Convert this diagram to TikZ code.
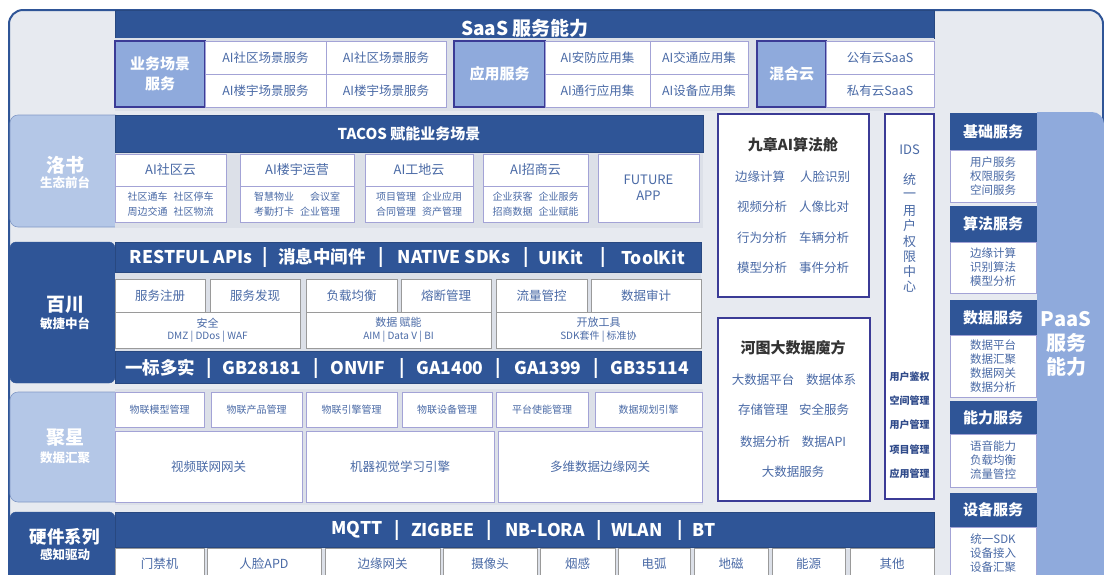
\documentclass[tikz,border=0pt]{standalone}
\usepackage{fontspec}
\setmainfont{Noto Sans CJK SC}
\definecolor{dkblue}{HTML}{2F5597}
\definecolor{lblue}{HTML}{B4C7E7}
\definecolor{mblue}{HTML}{8FAADC}
\definecolor{bg}{HTML}{E7EAF0}
\definecolor{strip}{HTML}{DCE0E8}
\definecolor{indigo}{HTML}{3B3B96}
\definecolor{cellline}{HTML}{A3A3D6}
\definecolor{txt}{HTML}{4A6AA6}
\definecolor{head}{HTML}{333333}
\definecolor{graycell}{HTML}{9A9A9A}
\definecolor{idstxt}{HTML}{2F4A8A}
\newcommand\bx[7]{\node[#6, minimum width={#4-#2}, minimum height={#5-#3}] (#1) at ({(#2+#4)/2},{(#3+#5)/2}) {#7};}
\newcommand\card[6]{%
  \bx{#1}{#2}{154}{#3}{222}{cell}{}
  \draw[cellline, line width=0.8pt] (#2,186) -- (#3,186);
  \node[f13, text=txt] (#1t) at ({(#2+#3)/2},170) {#4};
  \node[f10s, text=txt] (#1s) at ({(#2+#3)/2},204.5) {#5\\#6};
}
\tikzset{
 every node/.style={inner sep=0pt, outer sep=0pt, align=center},
 f10/.style={font=\fontsize{10}{12}\selectfont},
 f10s/.style={font=\fontsize{10}{15}\selectfont},
 f11/.style={font=\fontsize{11}{12.5}\selectfont},
 f115/.style={font=\fontsize{11.5}{14}\selectfont},
 f125/.style={font=\fontsize{12.5}{15}\selectfont},
 f13/.style={font=\fontsize{13}{16}\selectfont},
 b10/.style={font=\fontsize{10}{12}\selectfont\bfseries},
 b125/.style={font=\fontsize{12.5}{15}\selectfont\bfseries},
 b15/.style={font=\fontsize{15}{20}\selectfont\bfseries},
 b175/.style={font=\fontsize{17.5}{21}\selectfont\bfseries},
 b19/.style={font=\fontsize{19}{23}\selectfont\bfseries},
 b20/.style={font=\fontsize{20}{24}\selectfont\bfseries},
 cell/.style={draw=cellline, fill=white, line width=0.8pt, text=txt},
 gcell/.style={draw=graycell, fill=white, line width=0.8pt, text=txt},
 lab/.style={draw=indigo, fill=mblue, line width=1.2pt, text=white, b15},
 darkbar/.style={fill=dkblue, draw=dkblue!85!black, line width=0.6pt, text=white},
 darklab/.style={fill=dkblue, draw=dkblue, rounded corners=6pt},
 lightlab/.style={fill=lblue, draw=mblue!90!black, line width=0.6pt, rounded corners=8pt},
 bigbox/.style={draw=indigo, fill=white, line width=2.4pt},
 svh/.style={fill=dkblue, draw=dkblue, text=white, b15},
 svb/.style={cell, f115},
}
\begin{document}
\begin{tikzpicture}[x=1pt,y=-1pt]
\useasboundingbox (0,0) rectangle (1104,574);
\begin{scope}
\clip (0,0) rectangle (1104,574);
% outer frame
\draw[draw=dkblue, line width=2pt, fill=bg, rounded corners=14pt] (9,10) rectangle (1103,600);
% PaaS blue area
\fill[mblue] (1037,600) -- (1037,112) -- (1092,112) arc[start angle=-90, end angle=0, radius=12] -- (1104,600) -- cycle;

% ===== SaaS =====
\bx{saasbar}{115}{10}{934}{38}{darkbar}{}
\node[b19, text=white] (saast) at (525,28) {SaaS 服务能力};
\fill[strip] (115,38) rectangle (934,111);
\bx{g1l}{115}{41}{205}{107}{lab}{业务场景\\服务}
\bx{g1a}{205}{41}{326}{74}{cell,f125}{AI社区场景服务}
\bx{g1b}{326}{41}{446}{74}{cell,f125}{AI社区场景服务}
\bx{g1c}{205}{74}{326}{107}{cell,f125}{AI楼宇场景服务}
\bx{g1d}{326}{74}{446}{107}{cell,f125}{AI楼宇场景服务}
\bx{g2l}{454}{41}{545}{107}{lab}{应用服务}
\bx{g2a}{545}{41}{650}{74}{cell,f125}{AI安防应用集}
\bx{g2b}{650}{41}{748}{74}{cell,f125}{AI交通应用集}
\bx{g2c}{545}{74}{650}{107}{cell,f125}{AI通行应用集}
\bx{g2d}{650}{74}{748}{107}{cell,f125}{AI设备应用集}
\bx{g3l}{757}{41}{826}{107}{lab}{混合云}
\bx{g3a}{826}{41}{934}{74}{cell,f125}{公有云SaaS}
\bx{g3b}{826}{74}{934}{107}{cell,f125}{私有云SaaS}

% ===== 洛书 =====
\bx{luoshu}{10}{115}{123}{227}{lightlab}{}
\node[b19, text=white] (luoshu1) at (65,165) {洛书};
\node[b125, text=white] (luoshu2) at (65,183) {生态前台};
\fill[strip] (115,152) rectangle (703,228);
\bx{tacos}{115}{115}{703}{152}{darkbar,b15}{TACOS 赋能业务场景}
\card{c1}{115}{226}{AI社区云}{社区通车\hspace{6pt}社区停车}{周边交通\hspace{6pt}社区物流}
\card{c2}{240}{354}{AI楼宇运营}{智慧物业\hspace{16pt}会议室}{考勤打卡\hspace{6pt}企业管理}
\card{c3}{365}{473}{AI工地云}{项目管理\hspace{6pt}企业应用}{合同管理\hspace{6pt}资产管理}
\card{c4}{483}{588}{AI招商云}{企业获客\hspace{6pt}企业服务}{招商数据\hspace{6pt}企业赋能}
\bx{future}{598}{154}{699}{222}{cell,font=\fontsize{13}{16}\selectfont}{FUTURE\\APP}

% ===== 九章 =====
\bx{jiuzhang}{718}{114}{869}{297}{bigbox}{}
\node[b15, text=head] (jzt) at (793,145) {九章AI算法舱};
\node[f125, text=txt] (jz1) at (760,177) {边缘计算};
\node[f125, text=txt] (jz2) at (825,177) {人脸识别};
\node[f125, text=txt] (jz3) at (762,207) {视频分析};
\node[f125, text=txt] (jz4) at (824,207) {人像比对};
\node[f125, text=txt] (jz5) at (762,238) {行为分析};
\node[f125, text=txt] (jz6) at (824,238) {车辆分析};
\node[f125, text=txt] (jz7) at (762,268) {模型分析};
\node[f125, text=txt] (jz8) at (824,268) {事件分析};

% ===== 河图 =====
\bx{hetu}{718}{318}{870}{501}{bigbox}{}
\node[b15, text=head] (htt) at (793,348) {河图大数据魔方};
\node[f125, text=txt] (ht1) at (763,380) {大数据平台};
\node[f125, text=txt] (ht2) at (831,380) {数据体系};
\node[f125, text=txt] (ht3) at (763,410) {存储管理};
\node[f125, text=txt] (ht4) at (824,410) {安全服务};
\node[f125, text=txt] (ht5) at (765,442) {数据分析};
\node[f125, text=txt] (ht6) at (824,442) {数据API};
\node[f125, text=txt] (ht7) at (793,472) {大数据服务};

% ===== IDS =====
\bx{ids}{885}{114}{934}{499}{bigbox}{}
\node[f13, text=txt] (idst) at (909.5,150) {IDS};
\foreach \c [count=\i] in {统,一,用,户,权,限,中,心}
  \node[f13, text=txt] (idsc\i) at (909.5,{180+15.3*(\i-1)}) {\c};
\foreach \c/\y [count=\i] in {用户鉴权/377,空间管理/401,用户管理/425,项目管理/450,应用管理/474}
  \node[b10, text=idstxt] (idsb\i) at (909.5,\y) {\c};

% ===== PaaS services =====
\bx{jch}{950}{113}{1036}{150}{svh}{基础服务}
\bx{jcb}{950}{150}{1036}{202}{svb}{用户服务\\权限服务\\空间服务}
\bx{sfh}{950}{206}{1036}{242}{svh}{算法服务}
\bx{sfb}{950}{242}{1036}{293}{svb}{边缘计算\\识别算法\\模型分析}
\bx{sjh}{950}{300}{1036}{335}{svh}{数据服务}
\bx{sjb}{950}{335}{1036}{397}{svb}{数据平台\\数据汇聚\\数据网关\\数据分析}
\bx{nlh}{950}{401}{1036}{434}{svh}{能力服务}
\bx{nlb}{950}{434}{1036}{487}{svb}{语音能力\\负载均衡\\流量管控}
\bx{sbh}{950}{493}{1036}{527}{svh}{设备服务}
\bx{sbb}{950}{527}{1036}{580}{svb}{统一SDK\\设备接入\\设备汇聚}
\node[b20, text=white] (paas) at (1066,344) {PaaS\\服务\\能力};

% ===== 百川 =====
\bx{baichuan}{10}{242}{115}{383}{darklab}{}
\node[b19, text=white] (bc1) at (65,305) {百川};
\node[b125, text=white] (bc2) at (65,324) {敏捷中台};
\fill[strip] (115,272) rectangle (701,351);
\bx{restbar}{115}{242}{701}{272}{darkbar}{}
\foreach \t/\x [count=\i] in {RESTFUL APIs/191,|/265,消息中间件/322,|/381,NATIVE SDKs/454,|/526,UIKit/561,|/603,ToolKit/653}
  \node[b175, text=white] (rest\i) at (\x,257) {\t};
\bx{bca}{115}{279}{205}{312}{gcell,f125}{服务注册}
\bx{bcb}{210}{279}{300}{312}{gcell,f125}{服务发现}
\bx{bcc}{306}{279}{397}{312}{gcell,f125}{负载均衡}
\bx{bcd}{401}{279}{491}{312}{gcell,f125}{熔断管理}
\bx{bce}{496}{279}{587}{312}{gcell,f125}{流量管控}
\bx{bcf}{591}{279}{701}{312}{gcell,f125}{数据审计}
\bx{bcg}{115}{312}{300}{348}{gcell,f11}{安全\\{\fontsize{10}{12}\selectfont DMZ | DDos | WAF}}
\bx{bch}{306}{312}{491}{348}{gcell,f11}{数据 赋能\\{\fontsize{10}{12}\selectfont AIM | Data V | BI}}
\bx{bci}{496}{312}{701}{348}{gcell,f11}{开放工具\\{\fontsize{10}{12}\selectfont SDK套件 | 标准协}}
\bx{gbbar}{115}{351}{701}{383}{darkbar}{}
\foreach \t/\x [count=\i] in {一标多实/160,|/209,GB28181/262,|/316,ONVIF/358,|/402,GA1400/450,|/498,GA1399/548,|/596,GB35114/650}
  \node[b175, text=white] (gb\i) at (\x,368) {\t};

% ===== 聚星 =====
\bx{juxing}{10}{392}{123}{502}{lightlab}{}
\fill[strip] (115,389) rectangle (703,505);
\node[b19, text=white] (jx1) at (65,438) {聚星};
\node[b125, text=white] (jx2) at (65,458) {数据汇聚};
\bx{jxa}{115}{392}{204}{427}{cell,f10}{物联模型管理}
\bx{jxb}{211}{392}{302}{427}{cell,f10}{物联产品管理}
\bx{jxc}{306}{392}{397}{427}{cell,f10}{物联引擎管理}
\bx{jxd}{402}{392}{492}{427}{cell,f10}{物联设备管理}
\bx{jxe}{496}{392}{588}{427}{cell,f10}{平台使能管理}
\bx{jxf}{595}{392}{702}{427}{cell,f10}{数据规划引擎}
\bx{jxg}{115}{431}{302}{502}{cell,f125}{视频联网网关}
\bx{jxh}{306}{431}{494}{502}{cell,f125}{机器视觉学习引擎}
\bx{jxi}{498}{431}{702}{502}{cell,f125}{多维数据边缘网关}

% ===== 硬件 =====
\bx{hw}{10}{512}{115}{590}{darklab}{}
\node[b175, text=white] (hw1) at (65,537) {硬件系列};
\node[b125, text=white] (hw2) at (65,555) {感知驱动};
\fill[strip] (115,547) rectangle (934,590);
\bx{hwbar}{115}{512}{934}{547}{darkbar}{}
\foreach \t/\x [count=\i] in {MQTT/357,|/397,ZIGBEE/443,|/489,NB-LORA/545,|/599,WLAN/637,|/680,BT/704}
  \node[b175, text=white] (mq\i) at (\x,530) {\t};
\bx{hwa}{115}{548}{204}{580}{gcell,f125}{门禁机}
\bx{hwb}{207}{548}{321}{580}{gcell,f125}{人脸APD}
\bx{hwc}{325}{548}{440}{580}{gcell,f125}{边缘网关}
\bx{hwd}{443}{548}{537}{580}{gcell,f125}{摄像头}
\bx{hwe}{540}{548}{615}{580}{gcell,f125}{烟感}
\bx{hwf}{618}{548}{690}{580}{gcell,f125}{电弧}
\bx{hwg}{694}{548}{768}{580}{gcell,f125}{地磁}
\bx{hwh}{772}{548}{845}{580}{gcell,f125}{能源}
\bx{hwi}{850}{548}{934}{580}{gcell,f125}{其他}
\end{scope}
\end{tikzpicture}
\end{document}
